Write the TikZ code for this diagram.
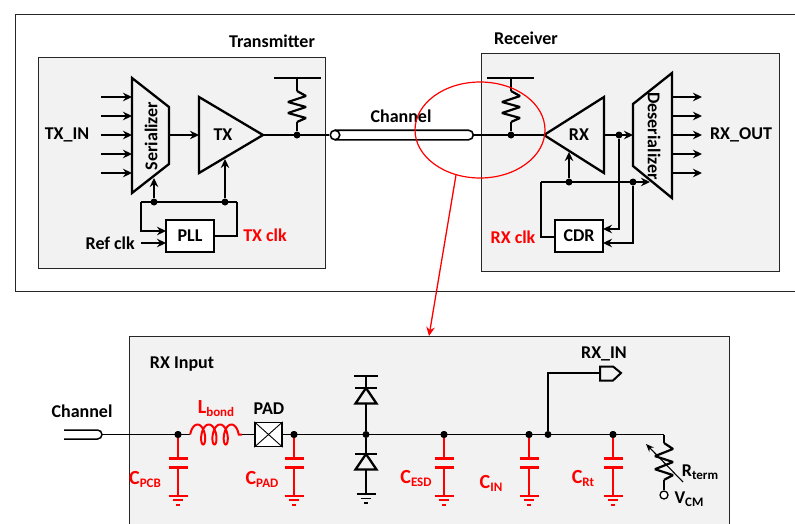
\documentclass[tikz,border=0pt]{standalone}
\usepackage{fontspec}
\setmainfont{Carlito}
\usepackage{xcolor}
\usetikzlibrary{arrows.meta,positioning,shapes.geometric}
\definecolor{panel}{HTML}{F2F2F2}
\newcommand{\subt}[1]{\raisebox{-3pt}{\fontsize{13}{13}\selectfont #1}}
\tikzset{
    %Define standard arrow tip
    >={Stealth[length=9pt,width=8.5pt]},
    %Define style for boxes
    panelbox/.style={
           draw=black!85, line width=1pt,
           fill=panel},
    block/.style={
           rectangle,
           draw=black, line width=1.4pt,
           fill=white,
           minimum width=48pt,
           minimum height=32pt,
           font=\fontsize{18}{18}\selectfont\bfseries},
    amp/.style={
           draw=black, line width=2.3pt,
           line join=miter},
    lbl/.style={
           inner sep=0pt,
           font=\fontsize{18}{18}\selectfont\bfseries},
    redlbl/.style={
           lbl,
           text=red},
    clbl/.style={
           redlbl,
           font=\fontsize{20}{20}\selectfont\bfseries},
    junction/.style={
           circle,
           fill=black,
           inner sep=0pt,
           minimum size=7pt},
    % Define arrow style
    wire/.style={
           draw=black,
           line width=1.5pt},
    pil/.style={
           wire,
           ->},
    % Repeated circuit parts
    gnd/.pic={
           \draw[line width=2pt] (-9.5,0) -- (9.5,0);
           \draw[line width=1.8pt] (-5,4.5) -- (5,4.5);
           \draw[line width=2pt] (-2.2,9) -- (2.2,9);},
    capacitor/.pic={
           \draw[line width=1.8pt] (0,0) -- (0,24) (0,33) -- (0,61);
           \draw[line width=2.3pt] (-9.5,24) -- (9.5,24) (-9.5,33) -- (9.5,33);
           \pic at (0,61) {gnd};},
    pullup/.pic={
           \draw[line width=2.2pt,line join=bevel] (0,0) -- (9,5) -- (-9,11) -- (9,16) -- (-9,22) -- (9,27) -- (0,31);},
    diode/.pic={
           \draw[line width=2.3pt] (-11,0) -- (11,0);
           \draw[line width=2.3pt] (0,0) -- (-10.5,15.5) -- (10.5,15.5) -- cycle;}
}
\begin{document}
\begin{tikzpicture}[x=1pt,y=-1pt]
\useasboundingbox (0,0) rectangle (795,523);
 %frames
\coordinate (frameTR) at (795,14);
\coordinate (frameBR) at (795,291);
\draw[line width=1pt,draw=black!85] (frameTR) -| (15,291) -- (frameBR);
\draw[panelbox] (38,57) rectangle (325,268);
\draw[panelbox] (481,53) rectangle (779,271);
\draw[panelbox] (129,530) |- (729,336) -- (729,530);

 %transmitter
\node[lbl] (txtitle) at (272,41) {Transmitter};
\draw[amp] (132,78) -- (169,107) -- (169,164) -- (132,193) -- cycle;
\node[lbl,rotate=90] (ser) at (151,136) {Serializer};
\draw[amp] (199,97) -- (263,135) -- (199,173) -- cycle;
\node[lbl] (tx) at (223,135) {TX};
\node[lbl] (txin) at (67,135) {TX\_IN};
\coordinate (txapex) at (263,135);
\coordinate (txinA) at (199,135);
\coordinate (serout) at (169,135);
\foreach \n/\y in {1/97,2/116,3/135,4/154,5/173}{
    \coordinate (sa\n) at (101,\y);
    \coordinate (sb\n) at (132,\y);
    \draw[pil] (sa\n) -- (sb\n);
}
\draw[pil] (serout) -- (txinA);
\node[block] (pll) at (190,236) {PLL};
\node[junction] (txdot) at (297,135) {};
\node[junction] (clkA) at (154,202) {};
\node[junction] (clkB) at (225,202) {};
\coordinate (serclk) at (154,178);
\coordinate (txclk) at (225,159);
\coordinate (pllA) at (166,231);
\coordinate (pllB) at (166,243);
\coordinate (refA) at (141,243);
\coordinate (clkL) at (141,202);
\coordinate (clkR) at (237,202);
\coordinate (pllout) at (214,236);
\draw[pil] (clkA) -- (serclk);
\draw[pil] (clkB) -- (txclk);
\draw[wire] (clkR) -- (clkL);
\draw[pil] (clkL) |- (pllA);
\draw[pil] (refA) -- (pllB);
\draw[wire] (pllout) -| (clkR);
\node[lbl,left=6pt of refA] (refclk) {Ref clk};
\node[redlbl] (txclklbl) at (265,235) {TX clk};
\coordinate (txrail) at (297,78);
\coordinate (txrailL) at (274,78);
\coordinate (txrailR) at (321,78);
\coordinate (txresT) at (297,91);
\coordinate (txresB) at (297,122);
\draw[wire] (txrailL) -- (txrailR);
\draw[wire] (txrail) -- (txresT);
\pic at (txresT) {pullup};
\draw[wire] (txresB) -- (txdot);

 %channel
\node[circle,draw=black,line width=1.6pt,inner sep=0pt,minimum size=9.5pt] (chA) at (335,135) {};
\coordinate (chB) at (473,135);
\draw[line width=1.6pt] (335,130.2) -- (468.5,130.2) arc (-90:90:4.8) -- (335,139.8);
\draw[wire] (txapex) -- (chA);
\node[lbl] (chlbl) at (401,116) {Channel};

 %receiver
\node[lbl] (rxtitle) at (526,38) {Receiver};
\node[junction] (rxdot) at (511,135) {};
\coordinate (rxapex) at (544,135);
\draw[wire] (chB) -- (rxapex);
\coordinate (rxrail) at (511,78);
\coordinate (rxrailL) at (487,78);
\coordinate (rxrailR) at (534,78);
\coordinate (rxresT) at (511,91);
\coordinate (rxresB) at (511,122);
\draw[wire] (rxrailL) -- (rxrailR);
\draw[wire] (rxrail) -- (rxresT);
\pic at (rxresT) {pullup};
\draw[wire] (rxresB) -- (rxdot);
\draw[amp] (544,135) -- (604,97) -- (604,173) -- cycle;
\node[lbl] (rx) at (579,135) {RX};
\draw[amp] (633,104) -- (672,73) -- (672,198) -- (633,166) -- cycle;
\node[lbl,rotate=-90] (des) at (654,136) {Deserializer};
\foreach \n/\y in {1/97,2/116,3/135,4/154,5/173}{
    \coordinate (da\n) at (672,\y);
    \coordinate (db\n) at (702,\y);
    \draw[pil] (da\n) -- (db\n);
}
\node[lbl] (rxout) at (741,135) {RX\_OUT};
\node[block] (cdr) at (579,236) {CDR};
\node[junction] (datadot) at (619,135) {};
\node[junction] (rclkA) at (569,182) {};
\node[junction] (rclkB) at (633,182) {};
\coordinate (rxoutp) at (604,135);
\coordinate (desin) at (633,135);
\coordinate (rxclk) at (569,152);
\coordinate (desclk) at (650,182);
\coordinate (rclkL) at (541,182);
\coordinate (cdrin) at (555,237);
\coordinate (cdrA) at (603,229);
\coordinate (cdrB) at (603,243);
\draw[pil] (rxoutp) -- (desin);
\draw[pil] (rclkA) -- (rxclk);
\draw[pil] (rclkL) -- (desclk);
\draw[wire] (cdrin) -| (rclkL);
\draw[pil] (datadot) |- (cdrA);
\draw[pil] (rclkB) |- (cdrB);
\node[redlbl] (rxclklbl) at (513,237) {RX clk};

 %zoom marker
\node[ellipse,draw=red,line width=1.2pt,inner sep=0pt,minimum width=130pt,minimum height=96pt] (probe) at (480,130) {};
\coordinate (probetip) at (429,336);
\draw[draw=red,line width=1.3pt,->] (probe.242) -- (probetip);

 %rx input
\node[lbl] (inputlbl) at (182,364) {RX Input};
\node[lbl] (chlbl2) at (82,411) {Channel};
\coordinate (stub) at (102,434.5);
\draw[line width=1.5pt] (64,430) -- (97.5,430) arc (-90:90:4.5) -- (64,439);
\node[junction] (pcb) at (178,434.5) {};
\node[junction] (padn) at (294,434.5) {};
\node[junction] (esd) at (366,434.5) {};
\node[junction] (cesd) at (444,434.5) {};
\node[junction] (cin) at (529,434.5) {};
\node[junction] (tap) at (548,434.5) {};
\node[junction] (crt) at (613,434.5) {};
\coordinate (lA) at (190,434.5);
\coordinate (lB) at (242,434.5);
\coordinate (netR) at (664,434.5);
\draw[wire] (stub) -- (lA);
\draw[draw=red,line width=2pt,smooth] plot[samples=140,domain=-90:1170] ({197.5+11.3*\x/360+4.5*sin(\x)},{434.5-10*cos(\x)}) -- (lB);
\node[draw=black,line width=1.4pt,fill=white,inner sep=0pt,minimum width=27pt,minimum height=24pt] (pad) at (268.5,434.5) {};
\draw[line width=.9pt] (pad.north west) -- (pad.south east) (pad.north east) -- (pad.south west);
\node[lbl] (padlbl) at (269,409) {PAD};
\draw[wire] (lB) -- (pad);
\draw[wire] (pad) -- (netR);
\node[clbl] (lbond) at (216,409) {L\subt{bond}};

 %esd diodes
\coordinate (railE) at (366,376);
\coordinate (railEL) at (354,376);
\coordinate (railER) at (378,376);
\coordinate (diodeT) at (366,388);
\coordinate (diodeA) at (366,403.5);
\coordinate (diodeB) at (366,454);
\coordinate (diodeC) at (366,469.5);
\coordinate (gndE) at (366,494);
\draw[wire] (railEL) -- (railER);
\draw[wire] (railE) -- (diodeT);
\pic at (diodeT) {diode};
\draw[wire] (diodeA) -- (esd) -- (diodeB);
\pic at (diodeB) {diode};
\draw[wire] (diodeC) -- (gndE);
\pic at (gndE) {gnd};

 %caps
\pic[red] at (pcb) {capacitor};
\pic[red] at (padn) {capacitor};
\pic[red] at (cesd) {capacitor};
\pic[red] at (cin) {capacitor};
\pic[red] at (crt) {capacitor};
\node[junction] at (pcb) {};
\node[junction] at (padn) {};
\node[junction] at (cesd) {};
\node[junction] at (cin) {};
\node[junction] at (crt) {};
\node[clbl] (cpcblbl) at (145,479) {C\subt{PCB}};
\node[clbl] (cpadlbl) at (262,479) {C\subt{PAD}};
\node[clbl] (cesdlbl) at (416,478) {C\subt{ESD}};
\node[clbl] (cinlbl) at (491,483) {C\subt{IN}};
\node[clbl] (crtlbl) at (583,478) {C\subt{Rt}};

 %rx_in port
\node[lbl] (rxinlbl) at (604,354) {RX\_IN};
\coordinate (portA) at (600,373);
\coordinate (tapT) at (548,373);
\draw[wire] (tap) -- (tapT) -- (portA);
\draw[line width=2pt,fill=panel] (600,366.5) -- (613,366.5) -- (621,373) -- (613,380.5) -- (600,380.5) -- cycle;

 %termination
\coordinate (rtA) at (664,443);
\coordinate (rtB) at (664,480);
\node[circle,draw=black,line width=1.3pt,fill=white,inner sep=0pt,minimum size=8pt] (vcm) at (664,495) {};
\draw[wire] (netR) -- (rtA);
\pic[yscale=1.19] at (rtA) {pullup};
\draw[wire] (rtB) -- (vcm);
\coordinate (trimA) at (683,482);
\coordinate (trimB) at (646,444);
\draw[line width=1.1pt,->,>={Stealth[length=8pt,width=6.5pt]}] (trimA) -- (trimB);
\node[lbl] (rtermlbl) at (700,472) {R\subt{term}};
\node[lbl] (vcmlbl) at (689,499) {V\subt{CM}};
\end{tikzpicture}
\end{document}
